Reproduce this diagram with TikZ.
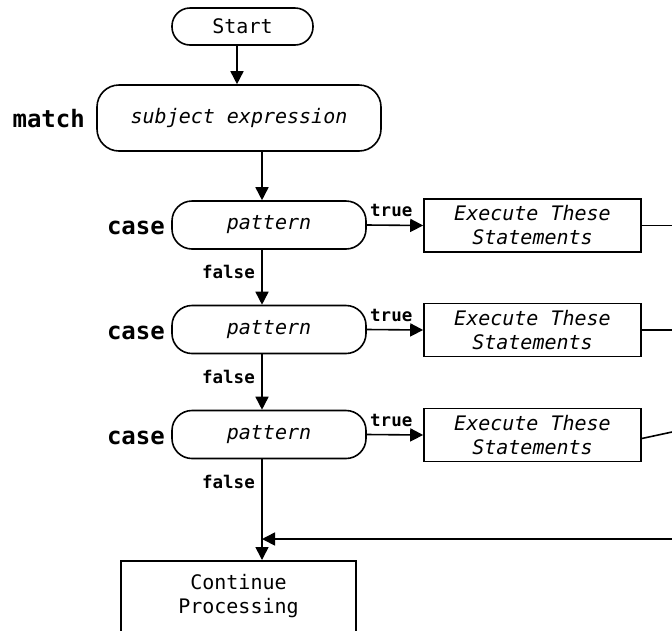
\documentclass[tikz,border=0pt]{standalone}
\usepackage{fontspec}
\setmonofont{DejaVu Sans Mono}
\usetikzlibrary{arrows.meta,positioning}
\tikzset{
  every node/.style={font=\ttfamily\fontsize{20}{24}\selectfont},
  conn/.style={line width=1.6pt},
  arr/.style={conn,-{Triangle[length=13pt,width=13pt]}},
  pill/.style={draw,line width=1.6pt,rounded corners=#1,inner sep=0pt},
  execbox/.style={draw,line width=1.6pt,minimum width=217pt,minimum height=53pt,align=center,inner sep=0pt,font=\ttfamily\itshape\fontsize{20}{24}\selectfont},
  kw/.style={font=\ttfamily\bfseries\fontsize{24}{28}\selectfont,inner sep=0pt},
  branch/.style={font=\ttfamily\bfseries\fontsize{17.5}{20}\selectfont,inner sep=0pt},
}
\begin{document}
\begin{tikzpicture}[x=1pt,y=-1pt]
\clip (0,0) rectangle (672,630);
\fill[white] (0,0) rectangle (672,630);

% entry and subject
\node[pill=18pt,minimum width=141pt,minimum height=37pt] (start) at (242.5,26.5) {Start};
\node[pill=22pt,minimum width=284pt,minimum height=66pt,font=\ttfamily\itshape\fontsize{20}{24}\selectfont] (subj) at (239,118) {subject expression};
\node[kw,anchor=east] (kmatch) at (85,119) {match};

% case patterns
\foreach \i/\y in {1/225,2/329.5,3/434.5}{
  \node[pill=20pt,minimum width=194pt,minimum height=48pt,font=\ttfamily\itshape\fontsize{20}{24}\selectfont] (p\i) at (269,\y) {pattern};
  \node[kw,anchor=east] (kcase\i) at (165,\y+3) {case};
  \node[execbox] (ex\i) at (532.5,\y+0.5) {Execute These\\Statements};
}

% continuation box (runs past the lower edge)
\node[draw,line width=1.6pt,anchor=north,minimum width=235pt,align=center,inner xsep=0pt,inner ysep=13pt,text depth=70pt] (cont) at (238.5,560) {Continue\\Processing};

% main column
\coordinate (col) at (262,0);
\draw[arr] ([xshift=-5.5pt]start.south) -- ([xshift=-5.5pt]start.south |- subj.north);
\draw[arr] (subj.south -| col) -- (p1.north -| col);
\draw[arr] (p1.south -| col) -- (p2.north -| col);
\draw[arr] (p2.south -| col) -- (p3.north -| col);
\draw[arr] (p3.south -| col) -- (cont.north -| col);

% branch labels
\foreach \i/\y in {1/225,2/329.5,3/434.5}{
  \draw[arr] (p\i.east) -- (ex\i.west);
  \node[branch,anchor=south west] (t\i) at (370,\y-8) {true};
}
\node[branch,anchor=east] (f1) at (255,272) {false};
\node[branch,anchor=east] (f2) at (255,377) {false};
\node[branch,anchor=east] (f3) at (255,482) {false};

% returns from the statement blocks
\coordinate (r1) at (700,225.5);
\coordinate (r2) at (700,330);
\coordinate (r3) at (700,426);
\coordinate (rb) at (700,539);
\draw[conn] (ex1.east) -- (r1);
\draw[conn] (ex2.east) -- (r2);
\draw[conn] ([yshift=-3.5pt]ex3.east) -- (r3);
\draw[arr] (rb) -- (col |- rb);
\end{tikzpicture}
\end{document}
